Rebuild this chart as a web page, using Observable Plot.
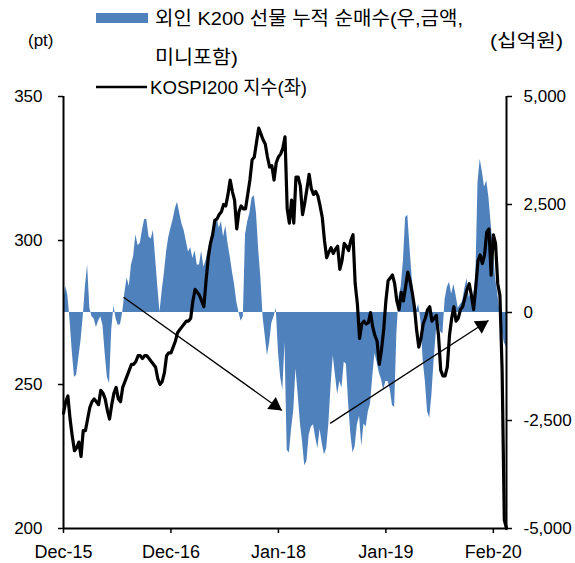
<!DOCTYPE html>
<html>
<head>
<meta charset="utf-8">
<script src="https://cdn.jsdelivr.net/npm/d3@7"></script>
<script src="https://cdn.jsdelivr.net/npm/@observablehq/plot@0.6"></script>
<style>
  body { margin: 0; background: #fff; }
  #chart { position: relative; width: 575px; height: 563px; }
  #chart svg.overlay { position: absolute; left: 0; top: 0; pointer-events: none; }
</style>
</head>
<body>
<div id="chart"></div>
<script>
// Weekly samples (every 5 trading days), starting at the beginning of Dec-2015
const sampleStep = 5;

// KOSPI200 index (pt, left axis)
const kospi200 = [
  240, 244, 246, 238, 232, 227, 228, 230, 225, 234,
  234, 238, 242, 244, 245, 244, 243, 248, 247, 245,
  241, 238, 243, 247, 249, 245, 244, 249, 251, 253,
  255, 257, 257, 258, 260, 260, 259, 260, 260, 259,
  258, 257, 256, 252, 250, 251, 254, 260, 261, 261,
  263, 265, 268, 269, 270, 271, 272, 272, 273, 279,
  283, 282, 281, 279, 277, 286, 294, 299, 302, 307,
  307.5, 309, 310, 312.5, 312, 316, 321, 317, 314, 304,
  310, 312, 311, 311, 316, 321, 328, 329, 334, 339,
  337, 335, 333.5, 329, 325.5, 326, 321, 327, 329, 330,
  332, 336, 311, 306, 314, 306, 322, 322, 319, 309,
  313, 318, 323, 318, 316, 317, 315.5, 312, 308, 300,
  294, 296, 297.5, 295.5, 297, 298, 290, 293, 299, 298,
  296.5, 300, 302, 285, 278, 266, 271, 272, 271, 271.5,
  275, 270, 267, 265, 257, 262, 269, 279, 286, 287,
  288, 285, 279, 276, 282, 279, 284, 289, 286, 282,
  277, 269, 263, 266, 271, 273, 276, 277, 272, 273,
  274, 267, 255, 253, 253, 256, 267, 273, 277, 272,
  273, 276, 277, 280, 283, 285, 281, 276, 284, 293,
  295, 292, 295, 303, 304, 288, 302, 299, 285, 281,
  255, 203, 200
];

// Foreign cumulative net buying of K200 futures incl. mini (KRW bn, right axis)
const futuresNet = [
  200, 600, 400, -200, -900, -1500, -1450, -1050, -650, -100,
  600, 1100, 100, -100, -150, -350, -200, -100, -300, -950,
  -1500, -1650, -400, 150, -150, -300, -280, 0, 450, 800,
  600, 1100, 1300, 1800, 1550, 1600, 1900, 2150, 2150, 1750,
  1700, 1900, 1250, 600, 0, 500, 900, 1400, 1740, 1950,
  2150, 2400, 2550, 2300, 2050, 1900, 1650, 1400, 1500, 1250,
  1430, 1100, 1100, 1420, 1050, 1200, 1450, 1650, 1850, 1950,
  2200, 1950, 2100, 1750, 2000, 1600, 1300, 950, 650, 250,
  0, -200, -100, 1800, 2100, 2300, 2650, 2700, 2300, 1450,
  800, -100, -550, -1000, -700, -250, -100, 100, -900, -1500,
  -1800, -700, -3190, -3250, -2700, -2270, -1300, -1900, -2550, -3000,
  -3550, -3450, -2850, -2650, -2600, -2900, -3150, -2700, -3040, -3300,
  -3150, -2580, -1700, -1000, -1450, -1900, -1600, -1750, -1150, -1200,
  -2100, -2800, -3250, -3100, -2600, -2400, -3100, -2580, -2650, -2300,
  -2120, -1500, -950, -1150, -1400, -1550, -1800, -1600, -1600, -1780,
  -2150, -2200, -500, 350, 600, 1200, 2200, 2250, 1500, 800,
  300, 50, 180, -200, -1100, -1600, -2300, -2450, -1900, -1100,
  -450, -150, -450, -500, 300, 580, 700, 420, 650, 400,
  100, 180, 250, 550, 780, 350, 450, 380, 750, 3000,
  3550, 3250, 2900, 3050, 2650, 2050, 1450, 800, 450, 0,
  -420, -700, -800
];

// Category axis: one label every 245 trading days
const tickDays = [0, 245, 490, 735, 980];
const tickLabels = ["Dec-15", "Dec-16", "Jan-18", "Jan-19", "Feb-20"];
const leftTicks = [200, 250, 300, 350];
const rightTicks = [-5000, -2500, 0, 2500, 5000];
const rightTickLabels = ["-5,000", "-2,500", "0", "2,500", "5,000"];

// Trend arrows (trading-day index, KOSPI200 pt)
const trendArrows = [
  { x1: 137, y1: 280.3, x2: 498, y2: 241.0 },
  { x1: 608, y1: 236.5, x2: 969, y2: 272.2 }
];

const W = 575, H = 563;
const margin = { top: 96, right: 69, bottom: 35, left: 63 };
const xDomain = [0, 1010];
const ptDomain = [200, 350];

// Right axis (-5,000 .. 5,000) shares the frame with the left axis (200 .. 350)
const bnDomain = [-5000, 5000];
const toPt = v => ptDomain[0] + (v - bnDomain[0]) * (ptDomain[1] - ptDomain[0]) / (bnDomain[1] - bnDomain[0]);
const zeroPt = toPt(0);

const series = kospi200.map((v, i) => ({ day: i * sampleStep, kospi: v, net: futuresNet[i] }));

const xLabel = new Map(tickDays.map((d, i) => [d, tickLabels[i]]));
const rightLabel = new Map(rightTicks.map((v, i) => [toPt(v), rightTickLabels[i]]));

// Screen geometry of the arrowheads
const xs = Plot.scale({ x: { domain: xDomain, range: [margin.left, W - margin.right] } });
const ys = Plot.scale({ y: { domain: ptDomain, range: [H - margin.bottom, margin.top] } });
const headR = 5.5;
const tipOffset = 2 * Math.sqrt((Math.PI * headR * headR) / (3 * Math.sqrt(3)));
const headMarks = trendArrows.map(a => {
  const dx = xs.apply(a.x2) - xs.apply(a.x1);
  const dy = ys.apply(a.y2) - ys.apply(a.y1);
  const len = Math.hypot(dx, dy);
  const ux = dx / len, uy = dy / len;
  const rot = Math.atan2(ux, -uy) * 180 / Math.PI;
  return Plot.dot([a], {
    x: "x2", y: "y2", symbol: "triangle", r: headR,
    fill: "black", stroke: "none", rotate: rot,
    dx: -tipOffset * ux, dy: -tipOffset * uy
  });
});

const chart = Plot.plot({
  width: W,
  height: H,
  marginTop: margin.top,
  marginRight: margin.right,
  marginBottom: margin.bottom,
  marginLeft: margin.left,
  x: { domain: xDomain, axis: null },
  y: { domain: ptDomain, axis: null },
  style: { fontFamily: "'Liberation Sans', Arial, sans-serif", fontSize: "17px", color: "black", background: "white" },
  marks: [
    Plot.areaY(series, { x: "day", y1: () => zeroPt, y2: d => toPt(d.net), fill: "#4f81bd" }),
    Plot.line(series, { x: "day", y: "kospi", stroke: "black", strokeWidth: 3.2, strokeLinejoin: "round" }),
    Plot.link(trendArrows, { x1: "x1", y1: "y1", x2: "x2", y2: "y2", stroke: "black", strokeWidth: 1.3 }),
    ...headMarks,
    Plot.axisY(leftTicks, { anchor: "left", tickSize: 5, tickPadding: 16, fontSize: 17, strokeWidth: 1.5 }),
    Plot.axisY(rightTicks.map(toPt), { anchor: "right", tickSize: 5, tickPadding: 12, fontSize: 17, strokeWidth: 1.5, tickFormat: d => rightLabel.get(d) }),
    Plot.axisX(tickDays, { anchor: "bottom", tickSize: 5, tickPadding: 12, fontSize: 18, strokeWidth: 1.5, tickFormat: d => xLabel.get(d), fontFamily: "'Liberation Sans Narrow', 'Liberation Sans', Arial, sans-serif" }),
    Plot.ruleX(xDomain, { stroke: "black", strokeWidth: 2 }),
    Plot.ruleY([ptDomain[0]], { stroke: "black", strokeWidth: 2 })
  ]
});

const host = document.getElementById("chart");
host.appendChild(chart);

// Units and legend
const ov = d3.select(host).append("svg")
  .attr("class", "overlay")
  .attr("width", W)
  .attr("height", H);

const legendFont = "'Liberation Sans Narrow', 'Liberation Sans', 'Noto Sans CJK KR', sans-serif";

ov.append("text").attr("x", 28).attr("y", 40).attr("dominant-baseline", "central")
  .style("font-family", "'Liberation Sans', Arial, sans-serif").style("font-size", "17px")
  .text("(pt)");
ov.append("text").attr("x", 490).attr("y", 41).attr("dominant-baseline", "central")
  .attr("textLength", 73).attr("lengthAdjust", "spacingAndGlyphs")
  .style("font-family", legendFont).style("font-size", "18px")
  .text("(십억원)");

ov.append("rect").attr("x", 96).attr("y", 13).attr("width", 52).attr("height", 10).attr("fill", "#4f81bd");
ov.append("text").attr("x", 155).attr("y", 18).attr("dominant-baseline", "central")
  .attr("textLength", 308).attr("lengthAdjust", "spacingAndGlyphs")
  .style("font-family", legendFont).style("font-size", "19px")
  .text("외인 K200 선물 누적 순매수(우,금액,");
ov.append("text").attr("x", 155).attr("y", 57).attr("dominant-baseline", "central")
  .attr("textLength", 83).attr("lengthAdjust", "spacingAndGlyphs")
  .style("font-family", legendFont).style("font-size", "19px")
  .text("미니포함)");

ov.append("line").attr("x1", 96).attr("x2", 147).attr("y1", 87).attr("y2", 87)
  .attr("stroke", "black").attr("stroke-width", 2.5);
ov.append("text").attr("x", 150).attr("y", 87).attr("dominant-baseline", "central")
  .attr("textLength", 157).attr("lengthAdjust", "spacingAndGlyphs")
  .style("font-family", legendFont).style("font-size", "19px")
  .text("KOSPI200 지수(좌)");
</script>
</body>
</html>
